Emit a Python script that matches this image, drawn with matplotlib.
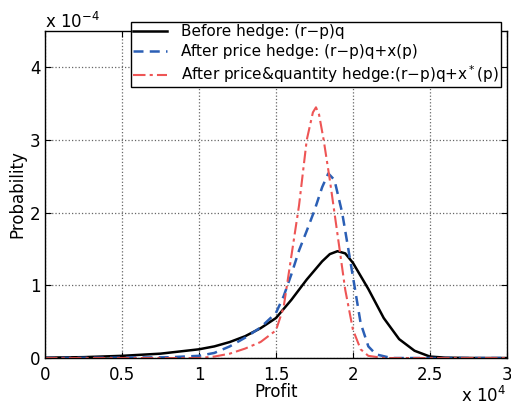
import matplotlib
matplotlib.use("Agg")
import matplotlib.pyplot as plt

plt.rcParams['font.family'] = ['DejaVu Sans']

###############################################################################
# DATA (profit in units of 1e4, probability in units of 1e-4)
###############################################################################
before_x = [0.0, 0.25, 0.5, 0.75, 1.0, 1.1, 1.2, 1.3, 1.4, 1.5, 1.6, 1.7,
            1.8, 1.85, 1.9, 1.95, 2.0, 2.1, 2.2, 2.3, 2.4, 2.5, 2.6, 2.8, 3.0]
before_y = [0.005, 0.012, 0.03, 0.06, 0.12, 0.16, 0.22, 0.30, 0.41, 0.55,
            0.80, 1.08, 1.33, 1.43, 1.47, 1.44, 1.31, 0.95, 0.55, 0.26,
            0.10, 0.02, 0.005, 0.0, 0.0]

price_x = [0.0, 0.5, 0.8, 1.0, 1.1, 1.2, 1.3, 1.4, 1.5, 1.55, 1.6, 1.65,
           1.7, 1.75, 1.8, 1.84, 1.88, 1.93, 1.97, 2.0, 2.05, 2.1, 2.15,
           2.25, 3.0]
price_y = [0.0, 0.005, 0.01, 0.03, 0.07, 0.16, 0.28, 0.42, 0.62, 0.85,
           1.15, 1.48, 1.75, 2.03, 2.35, 2.54, 2.45, 2.0, 1.5, 1.12, 0.48,
           0.16, 0.05, 0.0, 0.0]

pq_x = [0.0, 1.0, 1.1, 1.2, 1.3, 1.4, 1.5, 1.55, 1.6, 1.65, 1.7, 1.74,
        1.76, 1.78, 1.81, 1.85, 1.89, 1.95, 2.0, 2.05, 2.1, 2.2, 3.0]
pq_y = [0.0, 0.0, 0.02, 0.06, 0.13, 0.22, 0.38, 0.7, 1.4, 2.1, 3.0, 3.38,
        3.45, 3.35, 3.0, 2.45, 1.85, 0.94, 0.39, 0.12, 0.03, 0.0, 0.0]

labels = ["Before hedge: (r\u2212p)q",
          "After price hedge: (r\u2212p)q+x(p)",
          "After price&quantity hedge:(r\u2212p)q+x$^*$(p)"]

###############################################################################
# PLOT
###############################################################################
fig = plt.figure(figsize=(5.11, 4.08), dpi=100)
ax = fig.add_axes([0.088, 0.1225, 0.904, 0.8015])

ax.plot(before_x, before_y, color="black", lw=1.8, label=labels[0])
ax.plot(price_x, price_y, color="#2b5fb5", lw=1.8, ls=(0, (4, 2.5)),
        label=labels[1])
ax.plot(pq_x, pq_y, color="#ee5555", lw=1.5, ls=(0, (6, 2, 1.5, 2)),
        label=labels[2])

ax.set_xlim(0, 3)
ax.set_ylim(0, 4.5)
ax.set_xticks([0, 0.5, 1, 1.5, 2, 2.5, 3])
ax.set_xticklabels(["0", "0.5", "1", "1.5", "2", "2.5", "3"])
ax.set_yticks([0, 1, 2, 3, 4])
ax.tick_params(direction="in", labelsize=12, length=4, top=True, right=True)
ax.tick_params(axis="x", pad=6)
ax.tick_params(axis="y", pad=3)
ax.grid(True, ls=":", color="#666666", lw=0.9)
for s in ax.spines.values():
    s.set_linewidth(1.0)

ax.set_xlabel("Profit", fontsize=12, labelpad=-1)
ax.set_ylabel("Probability", fontsize=12, labelpad=3)

fig.text(0.088, 1 - 28 / 408, "x 10$^{-4}$", fontsize=12, ha="left",
         va="baseline")
fig.text(0.99, 2 / 408, "x 10$^{4}$", fontsize=12, ha="right", va="bottom")

leg = fig.legend(loc="upper left", bbox_to_anchor=(131 / 511, 1 - 22 / 408),
                 fontsize=11, frameon=True, fancybox=False, handlelength=2.2,
                 borderpad=0.15, labelspacing=0.3, handletextpad=0.9,
                 borderaxespad=0)
leg.get_frame().set_edgecolor("black")
leg.get_frame().set_linewidth(1.0)
leg.get_frame().set_alpha(1)

fig.savefig("out.png", dpi=100)
plt.close()
